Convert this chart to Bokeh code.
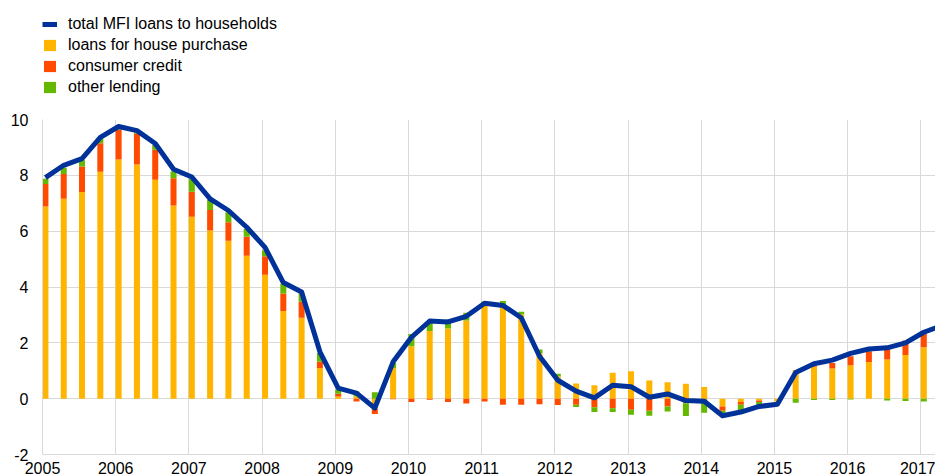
import numpy as np
from bokeh.plotting import figure
from bokeh.layouts import column
from bokeh.models import ColumnDataSource, Legend, LegendItem, FixedTicker, Range1d
from bokeh.embed import file_html
from bokeh.resources import INLINE

# ---- data (annual percentage changes, quarterly 2005Q1 - 2017Q2) ----
years = list(range(2005, 2018))
year_labels = [str(y) for y in years]
y_ticks = [-2, 0, 2, 4, 6, 8, 10]
y_tick_labels = ["-2", "0", "2", "4", "6", "8", "10"]

house = [6.88, 7.16, 7.40, 8.13, 8.57, 8.39, 7.84, 6.92, 6.52, 6.02, 5.66, 5.12,
         4.44, 3.14, 2.90, 1.10, 0.08, 0.08, -0.37, 1.10, 1.88, 2.42, 2.51, 2.80,
         3.36, 3.32, 3.02, 1.64, 0.80, 0.54, 0.48, 0.93, 0.98, 0.65, 0.59, 0.53,
         0.42, -0.28, -0.12, -0.07, -0.10, 1.00, 1.13, 1.08, 1.20, 1.31, 1.40, 1.56,
         1.84]
consumer = [0.81, 0.89, 0.92, 1.02, 1.07, 1.11, 1.08, 0.98, 0.89, 0.74, 0.66, 0.68,
            0.66, 0.63, 0.57, 0.22, 0.10, -0.10, -0.18, -0.02, -0.12, -0.04, -0.12, -0.17,
            -0.10, -0.22, -0.22, -0.20, -0.23, -0.22, -0.31, -0.34, -0.40, -0.43, -0.28, -0.16,
            -0.02, -0.15, -0.10, -0.05, 0.00, 0.02, 0.03, 0.20, 0.32, 0.39, 0.36, 0.52,
            0.52]
other = [0.19, 0.22, 0.22, 0.17, 0.05, 0.05, 0.17, 0.24, 0.47, 0.36, 0.36, 0.28,
         0.22, 0.35, 0.30, 0.32, 0.14, 0.18, 0.23, 0.18, 0.44, 0.30, 0.33, 0.28,
         0.12, 0.18, 0.09, 0.12, 0.09, -0.08, -0.17, -0.14, -0.18, -0.18, -0.18, -0.46,
         -0.48, -0.12, -0.22, -0.10, 0.00, -0.15, -0.05, -0.05, -0.03, 0.01, -0.07, -0.08,
         -0.10]
total = [7.92, 8.36, 8.60, 9.36, 9.75, 9.60, 9.14, 8.22, 7.94, 7.16, 6.74, 6.14,
         5.42, 4.16, 3.82, 1.68, 0.38, 0.20, -0.34, 1.32, 2.20, 2.78, 2.75, 2.95,
         3.42, 3.34, 2.90, 1.52, 0.66, 0.27, 0.03, 0.48, 0.43, 0.05, 0.17, -0.07,
         -0.09, -0.61, -0.48, -0.28, -0.20, 0.94, 1.25, 1.38, 1.62, 1.78, 1.82, 2.00,
         2.38, 2.62]

# quarterly dates as decimal years (mid of first month of each quarter)
dates = [y + q * 0.25 + 0.04 for y in years for q in range(4)]
bar_x = dates[:len(house)]
line_x = dates[:len(total)]

# ---- stacking (positive parts upward, negative parts downward) ----
comps = [np.array(house), np.array(consumer), np.array(other)]
pos_base = np.zeros(len(house))
neg_base = np.zeros(len(house))
stack = []
for c in comps:
    pos = np.clip(c, 0, None)
    neg = np.clip(c, None, 0)
    stack.append((pos_base.copy(), pos_base + pos, neg_base + neg, neg_base.copy()))
    pos_base = pos_base + pos
    neg_base = neg_base + neg

colors = ["#FFB400", "#FF4B00", "#65B800"]
names = ["loans for house purchase", "consumer credit", "other lending"]
BLUE = "#003299"
FONT = "Liberation Sans"
GRID = "#d9d9d9"

# ---- main chart ----
p = figure(width=935, height=367, x_range=Range1d(2005, 2017.2), y_range=Range1d(-2, 10),
           output_backend="svg", toolbar_location=None,
           min_border_left=42, min_border_right=0, min_border_top=10, min_border_bottom=0)
p.outline_line_color = None

for (pb, pt, nb, nt), col in zip(stack, colors):
    src_p = ColumnDataSource(dict(x=bar_x, bottom=pb, top=pt))
    src_n = ColumnDataSource(dict(x=bar_x, bottom=nb, top=nt))
    p.vbar(x="x", bottom="bottom", top="top", width=0.082, source=src_p,
           fill_color=col, line_color=None)
    p.vbar(x="x", bottom="bottom", top="top", width=0.082, source=src_n,
           fill_color=col, line_color=None)

p.line(line_x, total, line_color=BLUE, line_width=5, line_join="round")

p.xaxis.ticker = FixedTicker(ticks=years)
p.xaxis.major_label_overrides = {y: s for y, s in zip(years, year_labels)}
p.yaxis.ticker = FixedTicker(ticks=y_ticks)
p.yaxis.major_label_overrides = {t: s for t, s in zip(y_ticks, y_tick_labels)}
for ax in (p.xaxis, p.yaxis):
    ax.major_tick_line_color = None
    ax.minor_tick_line_color = None
    ax.major_tick_in = 0
    ax.major_tick_out = 0
    ax.axis_line_color = GRID
    ax.major_label_text_font = FONT
    ax.major_label_text_font_size = "16px"
    ax.major_label_text_color = "#000000"
p.yaxis.major_label_standoff = 14
p.xaxis.major_label_standoff = 7
p.xgrid.grid_line_color = GRID
p.ygrid.grid_line_color = GRID

# ---- legend strip above the chart (same series, drawn outside its visible range) ----
lf = figure(width=935, height=109, x_axis_type=None, y_axis_type=None,
            x_range=Range1d(0, 1), y_range=Range1d(0, 1),
            output_backend="svg", toolbar_location=None,
            min_border_left=42, min_border_right=0, min_border_top=0, min_border_bottom=0)
lf.outline_line_color = None
lf.xgrid.visible = False
lf.ygrid.visible = False
lsrc = ColumnDataSource(dict(x=bar_x, top=house))
lr = [lf.line(line_x, total, line_color=BLUE, line_width=5)]
for col in colors:
    lr.append(lf.vbar(x="x", top="top", width=0.08, source=lsrc, fill_color=col, line_color=None))
labels = ["total MFI loans to households"] + names
legend = Legend(items=[LegendItem(label=l, renderers=[r]) for l, r in zip(labels, lr)],
                location=(0, 12))
legend.label_text_font = FONT
legend.label_text_font_size = "16px"
legend.label_text_color = "#000000"
legend.glyph_width = 15
legend.glyph_height = 14
legend.label_height = 20
legend.spacing = 1
legend.padding = 0
legend.margin = 0
legend.label_standoff = 11
legend.border_line_color = None
legend.background_fill_alpha = 0
lf.add_layout(legend)

layout = column(lf, p, spacing=0)
open("out.html", "w").write(file_html(layout, INLINE))
